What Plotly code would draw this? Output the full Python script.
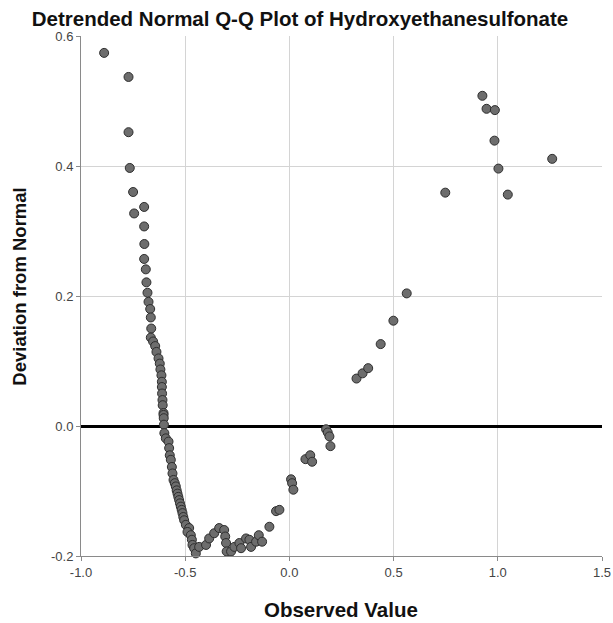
import plotly.graph_objects as go

observed = [
    -0.889, -0.772, -0.772, -0.766, -0.750, -0.697, -0.745, -0.697, -0.696,
    -0.697, -0.689, -0.686, -0.681, -0.676, -0.668, -0.665, -0.663, -0.665,
    -0.654, -0.644, -0.638, -0.628, -0.622, -0.619, -0.614, -0.612, -0.612,
    -0.611, -0.609, -0.608, -0.604, -0.604, -0.603, -0.602, -0.600, -0.593,
    -0.580, -0.577, -0.574, -0.569, -0.564, -0.561, -0.556, -0.550, -0.545,
    -0.541, -0.537, -0.533, -0.529, -0.525, -0.521, -0.517, -0.513, -0.509,
    -0.505, -0.497, -0.481, -0.489, -0.473, -0.468, -0.465, -0.457, -0.449,
    -0.433, -0.400, -0.385, -0.361, -0.337, -0.313, -0.308, -0.304, -0.301,
    -0.280, -0.264, -0.240, -0.232, -0.208, -0.192, -0.184, -0.160, -0.147,
    -0.131, -0.096, -0.064, -0.048, 0.008, 0.013, 0.019, 0.077, 0.100, 0.109,
    0.176, 0.184, 0.192, 0.197, 0.322, 0.351, 0.378, 0.438, 0.499, 0.563,
    0.748, 0.926, 0.946, 0.986, 0.984, 1.003, 1.048, 1.261,
]
deviation = [
    0.574, 0.537, 0.452, 0.397, 0.360, 0.337, 0.327, 0.307, 0.280,
    0.257, 0.241, 0.221, 0.205, 0.191, 0.180, 0.167, 0.150, 0.136,
    0.130, 0.123, 0.114, 0.104, 0.096, 0.087, 0.078, 0.068, 0.060,
    0.050, 0.040, 0.032, 0.020, 0.017, 0.012, 0.002, -0.011, -0.019,
    -0.024, -0.034, -0.045, -0.052, -0.063, -0.073, -0.083, -0.088, -0.093,
    -0.099, -0.104, -0.109, -0.114, -0.119, -0.124, -0.129, -0.134, -0.140,
    -0.145, -0.152, -0.157, -0.163, -0.168, -0.175, -0.183, -0.188, -0.196,
    -0.186, -0.183, -0.173, -0.165, -0.157, -0.160, -0.170, -0.180, -0.193,
    -0.193, -0.186, -0.180, -0.188, -0.173, -0.175, -0.186, -0.178, -0.168,
    -0.178, -0.155, -0.131, -0.129, -0.082, -0.088, -0.098, -0.051, -0.045, -0.055,
    -0.005, -0.010, -0.016, -0.031, 0.073, 0.081, 0.089, 0.126, 0.162, 0.204,
    0.359, 0.508, 0.488, 0.486, 0.439, 0.396, 0.356, 0.411,
]

x_ticks = [-1.0, -0.5, 0.0, 0.5, 1.0, 1.5]
y_ticks = [-0.2, 0.0, 0.2, 0.4, 0.6]
x_range = [-1.0, 1.5]
y_range = [-0.2, 0.6]

fig = go.Figure()
fig.add_trace(go.Scatter(
    x=observed, y=deviation, mode="markers",
    marker=dict(size=9, color="#6d6d6d", line=dict(color="#2e2e2e", width=1)),
    showlegend=False, cliponaxis=False, hoverinfo="skip",
))

font = "Liberation Sans, Arial, sans-serif"
axis_common = dict(
    showgrid=True, gridcolor="#d4d4d4", gridwidth=1,
    showline=True, linecolor="#8a8a8a", linewidth=1,
    ticks="outside", ticklen=4, tickcolor="#8a8a8a",
    tickfont=dict(size=13, color="#444", family=font),
    automargin=False,
)
fig.update_layout(
    width=613, height=623,
    margin=dict(l=81, r=11, t=36, b=67, autoexpand=False),
    paper_bgcolor="white", plot_bgcolor="white",
    font=dict(family=font, color="#222"),
    hovermode=False,
    title=dict(text="<b>Detrended Normal Q-Q Plot of Hydroxyethanesulfonate</b>",
               x=300 / 613, xref="container", xanchor="center",
               y=1 - 18.5 / 623, yref="container", yanchor="middle",
               font=dict(size=20.5, color="#111", family=font)),
    xaxis=dict(range=x_range, tickvals=x_ticks, ticktext=[f"{v:.1f}" for v in x_ticks],
               zeroline=False, **axis_common),
    yaxis=dict(range=y_range, tickvals=y_ticks, ticktext=[f"{v:.1f}" for v in y_ticks],
               zeroline=True, zerolinecolor="black", zerolinewidth=3, **axis_common),
    annotations=[
        dict(text="<b>Observed Value</b>", xref="paper", yref="paper",
             x=0.499, y=-0.102, xanchor="center", yanchor="middle", showarrow=False,
             font=dict(size=20.5, color="#111", family=font)),
        dict(text="<b>Deviation from Normal</b>", xref="paper", yref="paper",
             x=-0.117, y=0.518, xanchor="center", yanchor="middle", showarrow=False,
             textangle=-90, font=dict(size=18.5, color="#111", family=font)),
    ],
)
fig.write_html("out.html", config={"displayModeBar": False},
               post_script="document.body.style.margin='0';document.body.style.overflow='hidden';")
